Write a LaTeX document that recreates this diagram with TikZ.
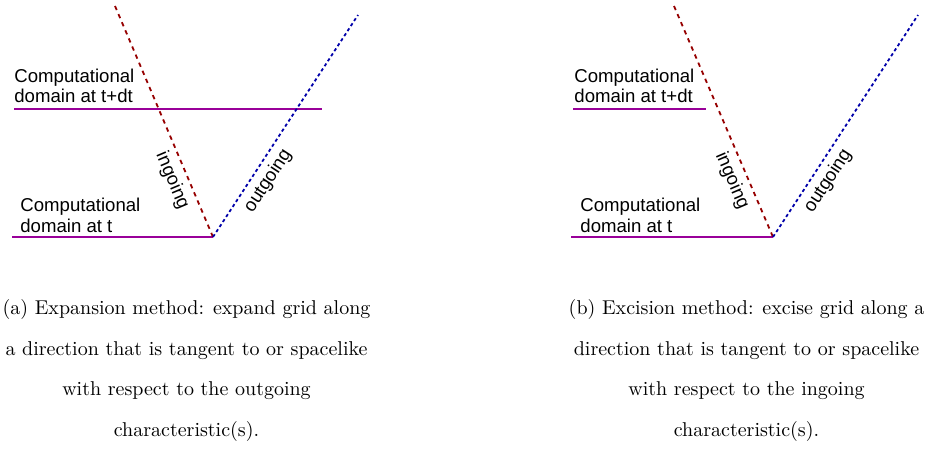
\documentclass[tikz,border=0pt]{standalone}
\usepackage{fontspec}
\usepackage{graphicx}
\newfontfamily\labelfont{Liberation Sans}
\definecolor{ingoingred}{RGB}{150,0,0}
\definecolor{outgoingblue}{RGB}{0,0,170}
\definecolor{domainpurple}{RGB}{153,0,153}
\tikzset{
  domainline/.style={domainpurple, line width=1pt},
  ingoingline/.style={ingoingred, line width=0.9pt, dash pattern=on 2.2pt off 2.2pt},
  outgoingline/.style={outgoingblue, line width=0.9pt, dash pattern=on 1.6pt off 1.4pt},
  domainlabel/.style={font=\labelfont\fontsize{9.3}{10}\selectfont, align=left, anchor=base west, inner sep=0pt},
  charlabel/.style={font=\labelfont\fontsize{9.3}{10}\selectfont, text=black, sloped, below, inner sep=3pt},
  captiontext/.style={font=\fontsize{10}{20.2}\selectfont, align=center, anchor=base, inner sep=0pt}
}

\begin{document}
\begin{tikzpicture}[x=0.5pt,y=-0.5pt]
\useasboundingbox (0,0) rectangle (930,454);
%expansion
\coordinate (a-in) at (115,6);
\coordinate (a-o) at (213,237);
\coordinate (a-out) at (358,15);
\coordinate (a-topl) at (14,109);
\coordinate (a-topr) at (322,109);
\coordinate (a-botl) at (12,237);
\draw[domainline] (a-topl) -- (a-topr);
\draw[domainline] (a-botl) -- (a-o);
\draw[ingoingline] (a-in) -- node[charlabel, pos=0.73] (a-inlabel) {ingoing} (a-o);
\draw[outgoingline] (a-o) -- node[charlabel, pos=0.29] (a-outlabel) {outgoing} (a-out);
\node[domainlabel] (a-next) at (14,103) {Computational\\domain at t+dt};
\node[domainlabel] (a-now) at (20,232) {Computational\\domain at t};
\node[captiontext] (a-caption) at (186.5,436) {(a) Expansion method: expand grid along\\a direction that is tangent to or spacelike\\with respect to the outgoing\\characteristic(s).};
%excision
\coordinate (b-in) at (674,6);
\coordinate (b-o) at (773,237);
\coordinate (b-out) at (918,15);
\coordinate (b-topl) at (573,109);
\coordinate (b-topr) at (706,109);
\coordinate (b-botl) at (571,237);
\draw[domainline] (b-topl) -- (b-topr);
\draw[domainline] (b-botl) -- (b-o);
\draw[ingoingline] (b-in) -- node[charlabel, pos=0.73] (b-inlabel) {ingoing} (b-o);
\draw[outgoingline] (b-o) -- node[charlabel, pos=0.29] (b-outlabel) {outgoing} (b-out);
\node[domainlabel] (b-next) at (574,103) {Computational\\domain at t+dt};
\node[domainlabel] (b-now) at (580,232) {Computational\\domain at t};
\node[captiontext] (b-caption) at (746.5,436) {(b) Excision method: excise grid along a\\direction that is tangent to or spacelike\\with respect to the ingoing\\characteristic(s).};
\end{tikzpicture}
\end{document}
